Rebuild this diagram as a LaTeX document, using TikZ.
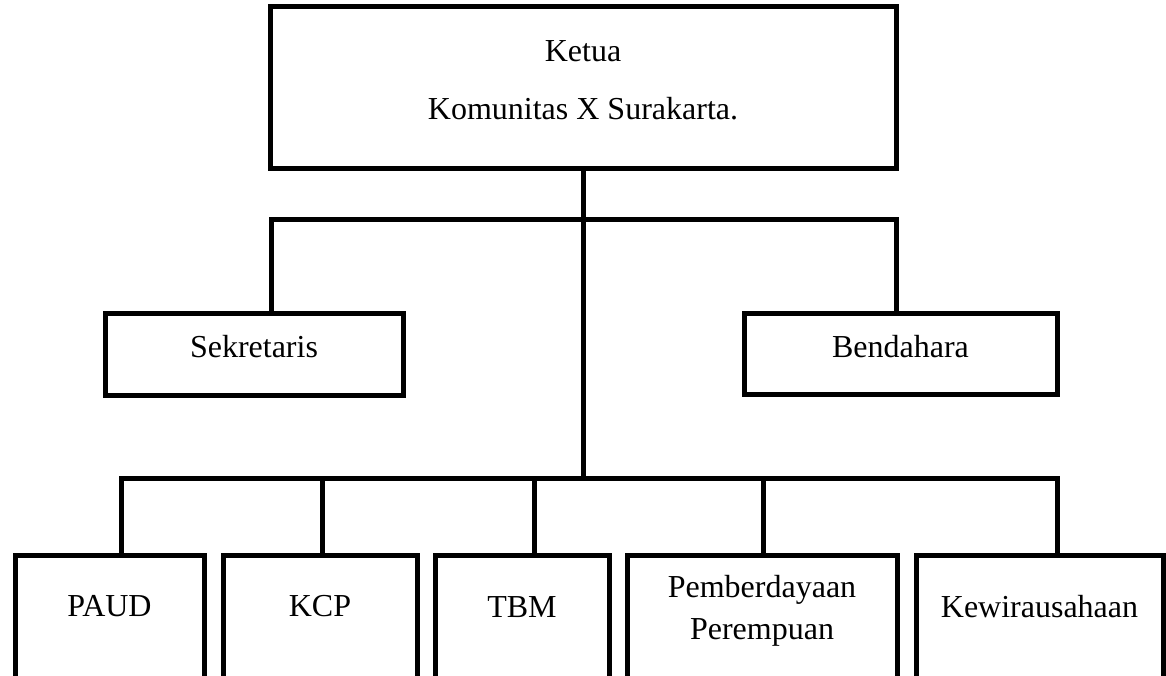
\documentclass[tikz,border=0pt]{standalone}
\usepackage{fontspec}
\setmainfont{Liberation Serif}

\tikzset{
  box/.style={draw, line width=2.5pt, inner sep=0pt},
  conn/.style={line width=2.5pt},
  txt/.style={anchor=base, inner sep=0pt, font=\fontsize{16}{19}\selectfont},
}

\begin{document}
\begin{tikzpicture}[x=0.5pt,y=-0.5pt]
	\useasboundingbox (0,0) rectangle (1166,675);
	\clip (0,0) rectangle (1166,675);

	% ketua
	\node[box, minimum width=313pt, minimum height=81pt] (ketua) at (583,87) {};
	\node[txt] (ketuaA) at (583,61) {Ketua};
	\node[txt] (ketuaB) at (583,119) {Komunitas X Surakarta.};

	% sekretaris, bendahara
	\node[box, minimum width=149pt, minimum height=41pt] (sek) at (254,354) {};
	\node[txt] (sekT) at (254,357) {Sekretaris};
	\node[box, minimum width=156.5pt, minimum height=40.5pt] (ben) at (900.5,353.5) {};
	\node[txt] (benT) at (900.5,357) {Bendahara};

	% bidang
	\node[box, minimum width=94.5pt, minimum height=72.5pt] (paud) at (109.5,627.5) {};
	\node[txt] (paudT) at (109.5,616) {PAUD};
	\node[box, minimum width=97pt, minimum height=72.5pt] (kcp) at (320,627.5) {};
	\node[txt] (kcpT) at (320,616) {KCP};
	\node[box, minimum width=87pt, minimum height=72.5pt] (tbm) at (522,627.5) {};
	\node[txt] (tbmT) at (522,617) {TBM};
	\node[box, minimum width=135pt, minimum height=72.5pt] (pemb) at (762,627.5) {};
	\node[txt] (pembA) at (762,597) {Pemberdayaan};
	\node[txt] (pembB) at (762,639) {Perempuan};
	\node[box, minimum width=123.5pt, minimum height=72.5pt] (kew) at (1039.5,627.5) {};
	\node[txt] (kewT) at (1039.5,617) {Kewirausahaan};

	% garis
	\coordinate (jsek) at (271,219);
	\coordinate (jben) at (896,219);
	\coordinate (jpaud) at (121,478);
	\coordinate (jkcp) at (322,478);
	\coordinate (jtbm) at (534,478);
	\coordinate (jpemb) at (763,478);
	\coordinate (jkew) at (1057,478);

	\draw[conn] (ketua.south) -- (ketua.south |- jpaud);
	\draw[conn] (jsek |- sek.north) -- (jsek) -- (jben) -- (jben |- ben.north);
	\draw[conn] (jpaud |- paud.north) -- (jpaud) -- (jkew) -- (jkew |- kew.north);
	\foreach \j/\b in {jkcp/kcp, jtbm/tbm, jpemb/pemb}
		\draw[conn] (\j) -- (\j |- \b.north);
\end{tikzpicture}
\end{document}
